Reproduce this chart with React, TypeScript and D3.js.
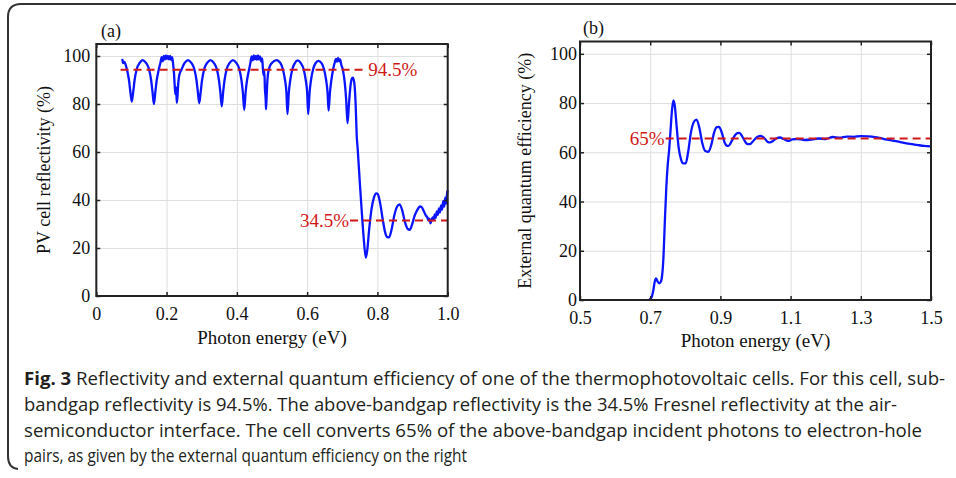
import { useEffect, useRef } from 'react'
import * as d3 from 'd3'

const W = 956
const H = 478
const SERIF = '"Liberation Serif", "Times New Roman", serif'
const BLUE = '#0a14ff'
const RED = '#d01818'
const GRID = '#dedede'
const INK = '#222'

// (a) PV cell reflectivity vs photon energy
const reflXTicks = [0, 0.2, 0.4, 0.6, 0.8, 1.0]
const reflXLabels = ['0', '0.2', '0.4', '0.6', '0.8', '1.0']
const reflectivity: [number, number][] = [
  [0.074, 98.8], [0.076, 97.0], [0.079, 97.6], [0.083, 96.6], [0.087, 94.5], [0.093, 90], [0.097, 85], [0.101, 81],
  [0.105, 85], [0.109, 90], [0.115, 94.5], [0.123, 97], [0.132, 98.3], [0.142, 97], [0.150, 94.5], [0.156, 90],
  [0.160, 85], [0.164, 80], [0.168, 85], [0.172, 90], [0.178, 94.5],
  [0.183, 97.5], [0.186, 99.5], [0.189, 97.8], [0.192, 100], [0.195, 98.5], [0.198, 100.2], [0.201, 98.8],
  [0.204, 100], [0.207, 98.6], [0.210, 100], [0.213, 98.3], [0.216, 99.5], [0.219, 96], [0.221, 93], [0.223, 88],
  [0.225, 84], [0.227, 87], [0.229, 80.5], [0.231, 83], [0.233, 88], [0.236, 92], [0.243, 94.5], [0.251, 97],
  [0.261, 98.3], [0.271, 97], [0.279, 94.5], [0.285, 90], [0.289, 85], [0.293, 80.3], [0.297, 85], [0.301, 90],
  [0.307, 94.5], [0.315, 97], [0.325, 98.3], [0.335, 97], [0.343, 94.5], [0.349, 90], [0.353, 85], [0.357, 79],
  [0.361, 85], [0.365, 90], [0.371, 94.5], [0.379, 97], [0.389, 98.3], [0.399, 97], [0.407, 94.5], [0.413, 90],
  [0.417, 85], [0.421, 77.5], [0.425, 85], [0.429, 90], [0.435, 94.5],
  [0.439, 97.5], [0.442, 99.8], [0.445, 98.2], [0.448, 100.3], [0.451, 98.6], [0.454, 100], [0.457, 98.4],
  [0.460, 100.2], [0.463, 98.5], [0.466, 99.8], [0.469, 97.8], [0.472, 99], [0.474, 95], [0.476, 92], [0.478, 94],
  [0.480, 86], [0.482, 82], [0.483, 77.8], [0.485, 84], [0.487, 90], [0.491, 94.5], [0.499, 97], [0.513, 98.3],
  [0.524, 97], [0.531, 94.5], [0.537, 90], [0.541, 85], [0.544, 75.8], [0.548, 85], [0.552, 90], [0.558, 94.5],
  [0.565, 97], [0.573, 98.2], [0.582, 97], [0.590, 94.5], [0.596, 90], [0.600, 85], [0.603, 75.8], [0.607, 85],
  [0.611, 90], [0.617, 94.5], [0.624, 97], [0.632, 98], [0.641, 97], [0.648, 94.5], [0.654, 90], [0.658, 85],
  [0.661, 77.2], [0.665, 85], [0.669, 90], [0.674, 94.5],
  [0.679, 97.5], [0.682, 98.8], [0.685, 97.6], [0.688, 99.2], [0.691, 97.8], [0.694, 98.6], [0.697, 96.5],
  [0.702, 94], [0.707, 89], [0.711, 82], [0.715, 72], [0.719, 80], [0.723, 87], [0.727, 90.5], [0.730, 91],
  [0.734, 89], [0.738, 80], [0.741, 67], [0.744, 61], [0.750, 47], [0.756, 34], [0.761, 24], [0.767, 16],
  [0.771, 19], [0.776, 27], [0.783, 36], [0.790, 41], [0.797, 42.8], [0.801, 42.5], [0.808, 38.5], [0.815, 32],
  [0.822, 26.5], [0.828, 24.5], [0.833, 24.4], [0.840, 27.5], [0.848, 33.5], [0.856, 37.3], [0.863, 38.2],
  [0.870, 36], [0.878, 31], [0.886, 28], [0.892, 27.6], [0.898, 29.5], [0.906, 33.5], [0.914, 36], [0.921, 37.3],
  [0.926, 37], [0.933, 35],
  [0.938, 33.5], [0.942, 32.8], [0.945, 31.5], [0.948, 32.2], [0.951, 30.3], [0.954, 31.5], [0.957, 32.8],
  [0.960, 31.6], [0.963, 34], [0.966, 32.6], [0.969, 35.2], [0.972, 33.8], [0.975, 36.5], [0.978, 34.8],
  [0.981, 37.8], [0.984, 36], [0.987, 39.5], [0.990, 37.2], [0.993, 41], [0.996, 38.5], [0.998, 42.5], [1.0, 44],
]
// dashed reference levels as they sit in the figure
const reflRefs = [
  { from: 0.069, to: 0.76, value: 94.3, label: '94.5%', side: 'right' },
  { from: 0.722, to: 1.0, value: 31.5, label: '34.5%', side: 'left' },
]

// (b) external quantum efficiency vs photon energy
const eqeXTicks = [0.5, 0.7, 0.9, 1.1, 1.3, 1.5]
const eqeXLabels = ['0.5', '0.7', '0.9', '1.1', '1.3', '1.5']
const eqe: [number, number][] = [
  [0.697, 0], [0.701, 0.5], [0.705, 1.5], [0.709, 4], [0.713, 7.5], [0.717, 8.8], [0.721, 7.5], [0.726, 6.8],
  [0.730, 7.3], [0.734, 10], [0.738, 18], [0.742, 33], [0.746, 46], [0.750, 55], [0.754, 61], [0.758, 69],
  [0.762, 77], [0.766, 81.1], [0.770, 79], [0.775, 71], [0.781, 62], [0.788, 57], [0.794, 55.5], [0.801, 55.5],
  [0.808, 60], [0.816, 68], [0.825, 72.5], [0.832, 73.3], [0.840, 70], [0.848, 64], [0.857, 60.5], [0.866, 60.2],
  [0.874, 63], [0.882, 68], [0.890, 70.2], [0.896, 70.3], [0.904, 68], [0.912, 64], [0.918, 62.7], [0.923, 62.6],
  [0.932, 64.5], [0.942, 67], [0.948, 67.8], [0.954, 67.9], [0.962, 66.5], [0.972, 64], [0.978, 63.3],
  [0.984, 63.3], [0.993, 64.5], [1.005, 66.2], [1.015, 66.7], [1.025, 65.8], [1.034, 64.3], [1.041, 64.0],
  [1.05, 64.6], [1.06, 65.7], [1.07, 66], [1.08, 65.4], [1.093, 64.6], [1.105, 65.2], [1.12, 65.4], [1.14, 65.0],
  [1.16, 65.2], [1.18, 65.6], [1.20, 65.4], [1.22, 66.2], [1.24, 65.9], [1.26, 66.4], [1.28, 66.3], [1.30, 66.6],
  [1.32, 66.5], [1.34, 66.2], [1.36, 65.6], [1.38, 65.0], [1.40, 64.5], [1.42, 63.9], [1.44, 63.4], [1.46, 63.0],
  [1.48, 62.6], [1.50, 62.4],
]
const eqeRefs = [{ from: 0.744, to: 1.5, value: 65.6, label: '65%', side: 'left' }]

const percentTicks = [0, 20, 40, 60, 80, 100]

const captionLines = [
  'Reflectivity and external quantum efficiency of one of the thermophotovoltaic cells. For this cell, sub-',
  'bandgap reflectivity is 94.5%. The above-bandgap reflectivity is the 34.5% Fresnel reflectivity at the air-',
  'semiconductor interface. The cell converts 65% of the above-bandgap incident photons to electron-hole',
  'pairs, as given by the external quantum efficiency on the right',
]
const captionWidths = [921, 873, 898, 443]

type Panel = {
  left: number; right: number; top: number; bottom: number
  xDomain: [number, number]
  xTicks: number[]; xLabels: string[]
  data: [number, number][]
  refs: { from: number; to: number; value: number; label: string; side: string }[]
  tag: string; tagX: number; tagY: number
  yLabel: string; yLabelX: number
  xLabelY: number; xPad: number; yPad: number
}

function drawPanel(svg: d3.Selection<SVGSVGElement, unknown, null, undefined>, p: Panel) {
  const x = d3.scaleLinear().domain(p.xDomain).range([p.left, p.right])
  const y = d3.scaleLinear().domain([0, 105]).range([p.bottom, p.top])
  const g = svg.append('g')
  const h = p.bottom - p.top
  const w = p.right - p.left

  // grid
  g.append('g')
    .attr('transform', `translate(0,${p.bottom})`)
    .call(d3.axisBottom(x).tickValues(p.xTicks).tickSize(-h).tickFormat(() => ''))
    .call(s => s.select('.domain').remove())
    .selectAll('line').attr('stroke', GRID)
  g.append('g')
    .attr('transform', `translate(${p.left},0)`)
    .call(d3.axisLeft(y).tickValues(percentTicks).tickSize(-w).tickFormat(() => ''))
    .call(s => s.select('.domain').remove())
    .selectAll('line').attr('stroke', GRID)

  // curve
  const line = d3.line<[number, number]>()
    .x(d => x(d[0]))
    .y(d => y(d[1]))
    .curve(d3.curveMonotoneX)
  g.append('path')
    .datum(p.data)
    .attr('d', line)
    .attr('fill', 'none')
    .attr('stroke', BLUE)
    .attr('stroke-width', 2.3)
    .attr('stroke-linejoin', 'round')

  // dashed reference levels
  p.refs.forEach(r => {
    g.append('line')
      .attr('x1', x(r.from)).attr('x2', x(r.to))
      .attr('y1', y(r.value)).attr('y2', y(r.value))
      .attr('stroke', RED)
      .attr('stroke-width', 2)
      .attr('stroke-dasharray', '8,5')
    g.append('text')
      .attr('x', r.side === 'right' ? x(r.to) + 5 : x(r.from) - 1)
      .attr('y', y(r.value))
      .attr('dy', '0.35em')
      .attr('text-anchor', r.side === 'right' ? 'start' : 'end')
      .attr('fill', RED)
      .attr('font-family', SERIF)
      .attr('font-size', 19)
      .text(r.label)
  })

  // axes with inward ticks on all four sides
  const styleAxis = (s: d3.Selection<SVGGElement, unknown, null, undefined>) => {
    s.attr('font-family', SERIF).attr('font-size', 18)
    s.select('.domain').remove()
    s.selectAll('line').attr('stroke', INK).attr('stroke-width', 1.5)
    s.selectAll('text').attr('fill', '#111')
  }
  g.append('g')
    .attr('transform', `translate(0,${p.bottom})`)
    .call(d3.axisBottom(x).tickValues(p.xTicks).tickSize(-4).tickPadding(p.xPad)
      .tickFormat((_d, i) => p.xLabels[i]))
    .call(styleAxis)
  g.append('g')
    .attr('transform', `translate(0,${p.top})`)
    .call(d3.axisTop(x).tickValues(p.xTicks).tickSize(-4).tickFormat(() => ''))
    .call(styleAxis)
  g.append('g')
    .attr('transform', `translate(${p.left},0)`)
    .call(d3.axisLeft(y).tickValues(percentTicks).tickSize(-4).tickPadding(p.yPad))
    .call(styleAxis)
  g.append('g')
    .attr('transform', `translate(${p.right},0)`)
    .call(d3.axisRight(y).tickValues(percentTicks).tickSize(-4).tickFormat(() => ''))
    .call(styleAxis)

  // frame
  g.append('rect')
    .attr('x', p.left).attr('y', p.top)
    .attr('width', w).attr('height', h)
    .attr('fill', 'none')
    .attr('stroke', INK)
    .attr('stroke-width', 2)

  // labels
  g.append('text')
    .attr('x', p.tagX).attr('y', p.tagY)
    .attr('font-family', SERIF).attr('font-size', 18).attr('fill', '#111')
    .text(p.tag)
  g.append('text')
    .attr('x', (p.left + p.right) / 2).attr('y', p.xLabelY)
    .attr('text-anchor', 'middle')
    .attr('font-family', SERIF).attr('font-size', 19).attr('fill', '#111')
    .text('Photon energy (eV)')
  g.append('text')
    .attr('transform', `translate(${p.yLabelX},${(p.top + p.bottom) / 2}) rotate(-90)`)
    .attr('text-anchor', 'middle')
    .attr('dy', '0.35em')
    .attr('font-family', SERIF).attr('font-size', 18).attr('fill', '#111')
    .text(p.yLabel)
}

export default function App() {
  const svgRef = useRef<SVGSVGElement>(null)

  useEffect(() => {
    if (!svgRef.current) return
    const svg = d3.select(svgRef.current)
    svg.selectAll('*').remove()

    svg.append('rect').attr('width', W).attr('height', H).attr('fill', '#fff')

    // outer figure frame
    svg.append('path')
      .attr('d', 'M956,4 H21 Q8,4 8,17 V456 Q8,468 18,469')
      .attr('fill', 'none')
      .attr('stroke', '#333')
      .attr('stroke-width', 2)

    drawPanel(svg, {
      left: 96.3, right: 447.7, top: 44, bottom: 296,
      xDomain: [0, 1],
      xTicks: reflXTicks, xLabels: reflXLabels,
      data: reflectivity, refs: reflRefs,
      tag: '(a)', tagX: 101, tagY: 37,
      yLabel: 'PV cell reflectivity (%)', yLabelX: 44,
      xLabelY: 344, xPad: 11, yPad: 6,
    })
    drawPanel(svg, {
      left: 580, right: 931, top: 41.5, bottom: 300,
      xDomain: [0.5, 1.5],
      xTicks: eqeXTicks, xLabels: eqeXLabels,
      data: eqe, refs: eqeRefs,
      tag: '(b)', tagX: 583, tagY: 34,
      yLabel: 'External quantum efficiency (%)', yLabelX: 525,
      xLabelY: 347, xPad: 11, yPad: 3,
    })

    // caption
    const cap = svg.append('g')
      .attr('font-family', '"Open Sans", "Noto Sans", sans-serif')
      .attr('font-size', 17.5)
      .attr('fill', '#231f20')
    captionLines.forEach((txt, i) => {
      const t = cap.append('text')
        .attr('x', 24)
        .attr('y', 385 + i * 25.8)
        .attr('textLength', captionWidths[i])
        .attr('lengthAdjust', 'spacingAndGlyphs')
      if (i === 0) {
        t.append('tspan').attr('font-weight', 'bold').text('Fig. 3')
        t.append('tspan').text(' ' + txt)
      } else {
        t.text(txt)
      }
    })
  }, [])

  return (
    <svg
      ref={svgRef}
      width={W}
      height={H}
      style={{ position: 'absolute', left: 0, top: 0, display: 'block' }}
    />
  )
}
